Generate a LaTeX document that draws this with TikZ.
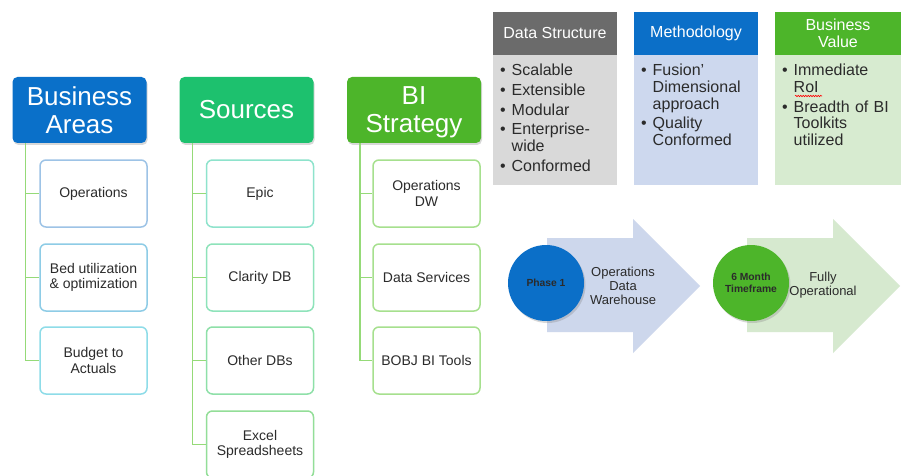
\documentclass[tikz,border=0pt]{standalone}
\usepackage{fontspec}
\setmainfont{Liberation Sans}
\usetikzlibrary{shadows,decorations.pathmorphing}
\definecolor{baBlue}{HTML}{0A70C9}
\definecolor{srcGreen}{HTML}{1DC16E}
\definecolor{biGreen}{HTML}{4DB52A}
\definecolor{lineGreen}{HTML}{95DA78}
\definecolor{leafA}{HTML}{9DC3E6}
\definecolor{leafB}{HTML}{8ECCE6}
\definecolor{leafC}{HTML}{8EDCE8}
\definecolor{leafD}{HTML}{8EE3CC}
\definecolor{leafE}{HTML}{8EE3BA}
\definecolor{leafF}{HTML}{8EE0A8}
\definecolor{leafG}{HTML}{93DE98}
\definecolor{leafH}{HTML}{A6E08E}
\definecolor{dsGray}{HTML}{6B6B6B}
\definecolor{dsBody}{HTML}{D9D9D9}
\definecolor{methBlue}{HTML}{0B6FC8}
\definecolor{methBody}{HTML}{CDD8EE}
\definecolor{bvBody}{HTML}{D7EBD0}
\definecolor{arrBlue}{HTML}{CDD7EC}
\definecolor{arrGreen}{HTML}{D6E9CF}
\definecolor{txtGray}{HTML}{2B2B2B}
\tikzset{
  hdr/.style={rounded corners=5pt, text=white, align=center, inner sep=0pt,
    minimum width=134pt, minimum height=66pt,
    font=\fontsize{26}{28}\selectfont,
    drop shadow={opacity=0.3, shadow xshift=1pt, shadow yshift=-2pt}},
  leaf/.style={line width=1.5pt, rounded corners=6pt, fill=white, align=center,
    minimum width=107pt, minimum height=67pt, inner sep=0pt, text=txtGray,
    font=\fontsize{14}{15.5}\selectfont},
  branch/.style={draw=lineGreen, line width=1.5pt},
  panelhead/.style={anchor=south, minimum height=43pt, inner sep=0pt, text=white,
    align=center, font=\fontsize{16}{17.7}\selectfont},
  panelbody/.style={anchor=north, minimum height=130pt, inner sep=0pt},
  bultext/.style={anchor=north west, text width=112pt, inner sep=0pt, align=left,
    text=txtGray, font=\fontsize{16}{16.7}\selectfont},
  phase/.style={circle, minimum size=76pt, inner sep=0pt, align=center,
    text=txtGray, font=\fontsize{10.3}{11.5}\selectfont\bfseries,
    drop shadow={opacity=0.3, shadow xshift=1.5pt, shadow yshift=-2pt}},
  arrtext/.style={align=center, inner sep=0pt, text=txtGray,
    font=\fontsize{13}{14}\selectfont}
}
\newcommand{\Bul}[1]{\hangindent=11.5pt\hangafter=1\noindent\makebox[11.5pt][l]{\textbullet}#1\par}

\begin{document}
\begin{tikzpicture}[x=1pt,y=-1pt]
\useasboundingbox[fill=white] (0,0) rectangle (910,476);
\foreach \Nodo/\X/\Col/\Texto in {ba/79.5/baBlue/{Business\\Areas},
  src/246.5/srcGreen/Sources, bi/414/biGreen/{BI\\Strate\smash{gy}}}
  \node[hdr, fill=\Col] (\Nodo) at (\X,110) {\Texto};
\foreach \Nodo/\X/\Y/\Col/\Texto in {
  ba1/93.5/193.5/leafA/Operations,
  ba2/93.5/277.5/leafB/{Bed utilization\\\& optimization},
  ba3/93.5/360.5/leafC/{Budget to\\Actuals},
  src1/260/193.5/leafD/Epic,
  src2/260/277.5/leafE/Clarity DB,
  src3/260/360.5/leafF/Other DBs,
  src4/260/444.5/leafG/{Excel\\Spreadsheets},
  bi1/426.5/193.5/leafH/{Operations\\DW},
  bi2/426.5/277.5/leafH/Data Services,
  bi3/426.5/360.5/leafH/BOBJ BI Tools}
  \node[leaf, draw=\Col] (\Nodo) at (\X,\Y) {\Texto};
\foreach \Nodo in {ba1,ba2,ba3}
  \draw[branch] ([xshift=13pt]ba.south west) |- (\Nodo.west);
\foreach \Nodo in {src1,src2,src3,src4}
  \draw[branch] ([xshift=13pt]src.south west) |- (\Nodo.west);
\foreach \Nodo in {bi1,bi2,bi3}
  \draw[branch] ([xshift=13pt]bi.south west) |- (\Nodo.west);

\node[panelbody, fill=dsBody, minimum width=124pt] (dsb) at (555,55) {};
\node[panelhead, fill=dsGray, minimum width=124pt] (dsh) at (dsb.north) {Data Structure};
\node[panelbody, fill=methBody, minimum width=124pt] (mb) at (696,55) {};
\node[panelhead, fill=methBlue, minimum width=124pt] (mh) at (mb.north) {Methodology};
\node[panelbody, fill=bvBody, minimum width=126pt] (bvb) at (838,55) {};
\node[panelhead, fill=biGreen, minimum width=126pt] (bvh) at (bvb.north) {Business\\Value};
\node[bultext] (dst) at (500,64) {\setlength{\parskip}{3pt}\Bul{Scalable}\Bul{Extensible}\Bul{Modular}\Bul{Enterprise-\newline wide}\Bul{Conformed}};
\node[bultext] (mt) at (641,64) {\setlength{\parskip}{3pt}\Bul{Fusion’\newline Dimensional\newline approach}\Bul{Quality\newline Conformed}};
\node[bultext] (bvt) at (782,64) {\setlength{\parskip}{3pt}\Bul{Immediate\newline RoI}\Bul{Breadth of BI\newline Toolkits\newline utilized}};
\draw[red, line width=0.6pt, decorate, decoration={snake, amplitude=0.7pt, segment length=2.5pt}] (795,96) -- (822,96);

\foreach \X/\Col in {547/arrBlue, 747/arrGreen}
  \fill[\Col] (\X,238) -- ++(86,0) -- ++(0,-19) -- ++(67,67) -- ++(-67,67) -- ++(0,-21) -- ++(-86,0) -- cycle;
\node[phase, fill=methBlue] (ph1) at (546,283) {Phase 1};
\node[phase, fill=biGreen] (ph2) at (751,283) {6 Month\\Timeframe};
\node[arrtext] (odw) at (623,286) {Operations\\Data\\Warehouse};
\node[arrtext] (fo) at (823,285) {Fully\\Operational};
\end{tikzpicture}
\end{document}
